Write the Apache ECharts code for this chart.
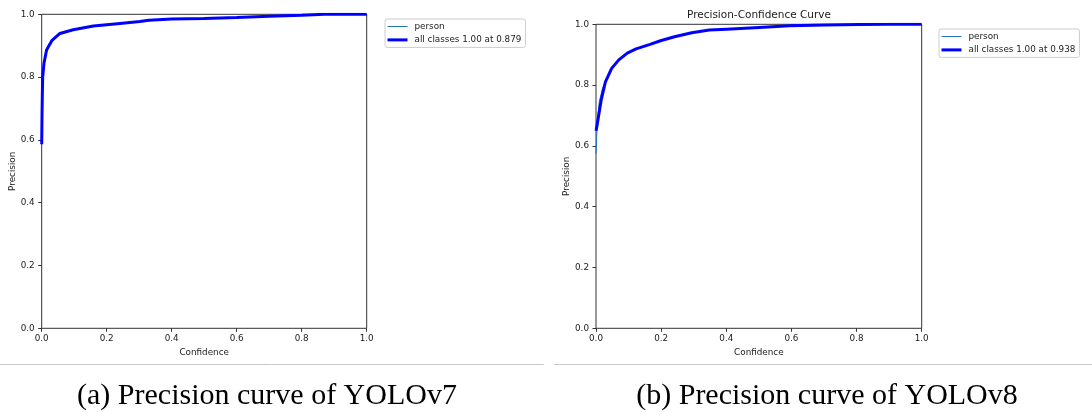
<!DOCTYPE html>
<html style="height: 100%">
   <head>
       <meta charset="utf-8">
       <script type="text/javascript" src="https://cdn.jsdelivr.net/npm/echarts@6.0.0/dist/echarts.min.js"></script>
   </head>
   <body style="height: 100%; margin: 0; background: #fff">
       <div id="container" style="width: 1092px; height: 412px;"></div>

       <script type="text/javascript">
       // YOLOv7 precision-confidence curve
       var v7Conf = [0, 0.001, 0.002, 0.003, 0.007, 0.015, 0.031, 0.056, 0.097, 0.159, 0.241, 0.302, 0.33, 0.4, 0.5, 0.6, 0.7, 0.8, 0.87, 1.0];
       var v7AllPrec = [0.586, 0.68, 0.75, 0.8, 0.844, 0.886, 0.916, 0.939, 0.951, 0.963, 0.971, 0.977, 0.981, 0.985, 0.987, 0.99, 0.994, 0.997, 1.0, 1.0];
       var v7PersonPrec = [0.586, 0.68, 0.75, 0.8, 0.844, 0.886, 0.916, 0.939, 0.951, 0.963, 0.971, 0.977, 0.981, 0.985, 0.987, 0.99, 0.994, 0.997, 1.0, 1.0];

       // YOLOv8 precision-confidence curve
       var v8Conf = [0, 0.002, 0.016, 0.029, 0.048, 0.07, 0.096, 0.123, 0.166, 0.198, 0.241, 0.294, 0.348, 0.401, 0.487, 0.594, 0.701, 0.81, 0.9, 1.0];
       var v8AllPrec = [0.65, 0.66, 0.751, 0.811, 0.855, 0.883, 0.905, 0.919, 0.934, 0.946, 0.959, 0.972, 0.981, 0.984, 0.989, 0.995, 0.998, 0.999, 1.0, 1.0];
       var v8PersonConf = [0, 0.004, 0.01, 0.02, 0.03, 0.048, 0.07, 0.096, 0.123, 0.166, 0.198, 0.241, 0.294, 0.348, 0.401, 0.487, 0.594, 0.701, 0.81, 0.9, 1.0];
       var v8PersonPrec = [0.575, 0.68, 0.745, 0.79, 0.815, 0.855, 0.883, 0.905, 0.919, 0.934, 0.946, 0.959, 0.972, 0.981, 0.984, 0.989, 0.995, 0.998, 0.999, 1.0, 1.0];

       var legendV7 = ['person', 'all classes 1.00 at 0.879'];
       var legendV8 = ['person', 'all classes 1.00 at 0.938'];
       var captions = ['(a) Precision curve of YOLOv7', '(b) Precision curve of YOLOv8'];
       var plotTitle = 'Precision-Confidence Curve';

       function pairs(xs, ys) {
           var out = [];
           for (var i = 0; i < xs.length; i++) {
               out.push([xs[i], ys[i]]);
           }
           return out;
       }

       var font = 'DejaVu Sans';
       var txt = '#1a1a1a';
       var spine = '#333';

       function makeX(idx) {
           return {
               gridIndex: idx, type: 'value', min: 0, max: 1, interval: 0.2,
               name: 'Confidence', nameLocation: 'middle', nameGap: 16,
               nameTextStyle: { fontFamily: font, fontSize: 8.8, color: txt },
               axisLine: { show: false },
               axisTick: { show: true, length: 3.5, lineStyle: { color: spine, width: 1 } },
               axisLabel: { margin: 6, fontFamily: font, fontSize: 8.8, color: txt,
                   formatter: function (v) { return v.toFixed(1); } },
               splitLine: { show: false }
           };
       }
       function makeY(idx) {
           return {
               gridIndex: idx, type: 'value', min: 0, max: 1, interval: 0.2,
               name: 'Precision', nameLocation: 'middle', nameGap: 24, nameRotate: 90,
               nameTextStyle: { fontFamily: font, fontSize: 8.8, color: txt },
               axisLine: { show: false },
               axisTick: { show: true, length: 3.5, lineStyle: { color: spine, width: 1 } },
               axisLabel: { margin: 7, fontFamily: font, fontSize: 8.8, color: txt,
                   formatter: function (v) { return v.toFixed(1); } },
               splitLine: { show: false }
           };
       }
       // plain line swatches, thin and thick, like matplotlib's legend
       function makeLegend(names, left, top) {
           return {
               orient: 'vertical', left: left, top: top,
               padding: [3, 4, 3, 2.5], itemGap: 4.4, itemWidth: 20, itemHeight: 9,
               symbolKeepAspect: true,
               backgroundColor: '#fff', borderColor: '#cccccc', borderWidth: 1, borderRadius: 2,
               textStyle: { fontFamily: font, fontSize: 8.8, color: txt, lineHeight: 9, padding: [0, 0, 0, 2] },
               data: [
                   { name: names[0], icon: 'path://M0,0H20V1H0Z', itemStyle: { color: '#1f77b4' } },
                   { name: names[1], icon: 'path://M0,0H20V3H0Z', itemStyle: { color: '#0000ff' } }
               ]
           };
       }

       var dom = document.getElementById("container");
       var myChart = echarts.init(dom);
       var option = {
           animation: false,
           grid: [
               { left: 41.7, top: 14.3, width: 325, height: 314, show: true, borderColor: spine, borderWidth: 1 },
               { left: 596, top: 24.3, width: 325.7, height: 304, show: true, borderColor: spine, borderWidth: 1 }
           ],
           xAxis: [makeX(0), makeX(1)],
           yAxis: [makeY(0), makeY(1)],
           legend: [makeLegend(legendV7, 385, 19), makeLegend(legendV8, 939, 29)],
           series: [
               { name: legendV7[0], type: 'line', xAxisIndex: 0, yAxisIndex: 0, symbol: 'none',
                 lineStyle: { width: 1, color: '#1f77b4' }, itemStyle: { color: '#1f77b4' },
                 data: pairs(v7Conf, v7PersonPrec) },
               { name: legendV7[1], type: 'line', xAxisIndex: 0, yAxisIndex: 0, symbol: 'none',
                 lineStyle: { width: 3, color: '#0000ff' }, itemStyle: { color: '#0000ff' },
                 data: pairs(v7Conf, v7AllPrec) },
               { name: legendV8[0], type: 'line', xAxisIndex: 1, yAxisIndex: 1, symbol: 'none',
                 lineStyle: { width: 1, color: '#1f77b4' }, itemStyle: { color: '#1f77b4' },
                 data: pairs(v8PersonConf, v8PersonPrec) },
               { name: legendV8[1], type: 'line', xAxisIndex: 1, yAxisIndex: 1, symbol: 'none',
                 lineStyle: { width: 3, color: '#0000ff' }, itemStyle: { color: '#0000ff' },
                 data: pairs(v8Conf, v8AllPrec) }
           ],
           graphic: [
               { type: 'text', x: 759, y: 15.7, style: { text: plotTitle, fontFamily: font, fontSize: 10.5, fill: txt, align: 'center', verticalAlign: 'middle' } },
               { type: 'line', shape: { x1: 0, y1: 364.5, x2: 543.5, y2: 364.5 }, style: { stroke: '#c8c8c8', lineWidth: 1 } },
               { type: 'line', shape: { x1: 554, y1: 364.5, x2: 1092, y2: 364.5 }, style: { stroke: '#c8c8c8', lineWidth: 1 } },
               { type: 'text', x: 267, y: 396, style: { text: captions[0], fontFamily: 'Liberation Serif', fontSize: 30, fill: '#000', align: 'center', verticalAlign: 'middle' } },
               { type: 'text', x: 827, y: 396, style: { text: captions[1], fontFamily: 'Liberation Serif', fontSize: 30, fill: '#000', align: 'center', verticalAlign: 'middle' } }
           ]
       };

       if (option && typeof option === "object") {
           myChart.setOption(option, true);
       }
       </script>
   </body>
</html>
